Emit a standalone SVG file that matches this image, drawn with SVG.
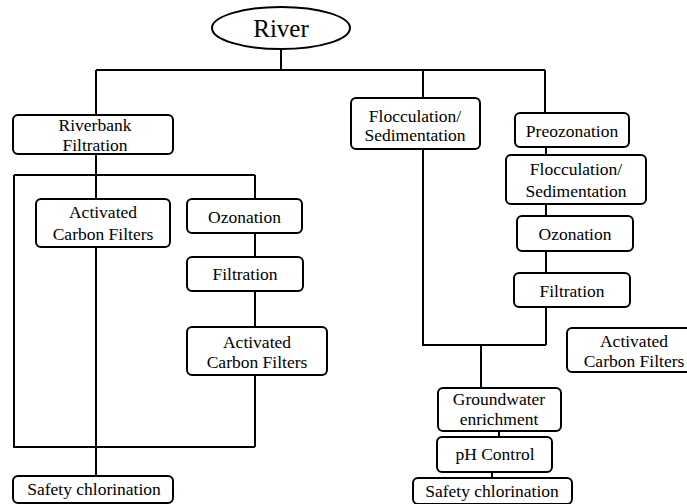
<svg xmlns="http://www.w3.org/2000/svg" width="687" height="504" viewBox="0 0 687 504">
<style>
.b{fill:#fff;stroke:#000;stroke-width:2}
.t{font-family:'Liberation Serif',serif;font-size:17.5px;fill:#000;text-anchor:middle}
.c{fill:none;stroke:#000;stroke-width:2}
</style>
<rect width="687" height="504" fill="#fff"/>
<g id="connectors" class="c">
<path d="M281,50V70M96,70H545M96,70V115M423,70V98M545,70V113"/>
<path d="M96,154V199M14,175H255M14,175V447H255M255,175V199M255,233V257M255,291V327M255,375V447M96,247V476"/>
<path d="M423,149V345H546M546,147V155M546,204V216M546,251V273M546,307V345M481,345V388M499,431V437M492,472V478"/>
</g>
<g font-family="Liberation Serif, serif">
<g id="river"><ellipse cx="281" cy="28" rx="69" ry="21" class="b"/><text x="281" y="37" class="t" font-size="25" style="font-size:25px">River</text></g>
<g id="riverbank"><rect x="13" y="115" width="160" height="39" rx="5" class="b"/><text x="95" y="131" class="t">Riverbank</text><text x="95" y="151" class="t">Filtration</text></g>
<g id="acf1"><rect x="36" y="199" width="134" height="48" rx="5" class="b"/><text x="103" y="218" class="t">Activated</text><text x="103" y="240" class="t">Carbon Filters</text></g>
<g id="ozon1"><rect x="187" y="199" width="115" height="34" rx="5" class="b"/><text x="244.5" y="223" class="t">Ozonation</text></g>
<g id="filt1"><rect x="187" y="257" width="116" height="34" rx="5" class="b"/><text x="245" y="280" class="t">Filtration</text></g>
<g id="acf2"><rect x="187" y="327" width="140" height="48" rx="5" class="b"/><text x="257" y="348" class="t">Activated</text><text x="257" y="368" class="t">Carbon Filters</text></g>
<g id="safety1"><rect x="13" y="476" width="160" height="27" rx="5" class="b"/><text x="94" y="495" class="t">Safety chlorination</text></g>
<g id="floc1"><rect x="351" y="98" width="129" height="51" rx="5" class="b"/><text x="415" y="122" class="t">Flocculation/</text><text x="415" y="141" class="t">Sedimentation</text></g>
<g id="preoz"><rect x="515" y="113" width="114" height="34" rx="5" class="b"/><text x="572" y="137" class="t">Preozonation</text></g>
<g id="floc2"><rect x="506" y="155" width="140" height="49" rx="5" class="b"/><text x="576" y="175" class="t">Flocculation/</text><text x="576" y="197" class="t">Sedimentation</text></g>
<g id="ozon2"><rect x="517" y="216" width="116" height="35" rx="5" class="b"/><text x="575" y="240" class="t">Ozonation</text></g>
<g id="filt2"><rect x="514" y="273" width="116" height="34" rx="5" class="b"/><text x="572" y="297" class="t">Filtration</text></g>
<g id="acf3"><rect x="567" y="328" width="130" height="44" rx="5" class="b"/><text x="634" y="347" class="t">Activated</text><text x="634" y="367" class="t">Carbon Filters</text></g>
<g id="ground"><rect x="438" y="388" width="123" height="43" rx="5" class="b"/><text x="499" y="405" class="t">Groundwater</text><text x="499" y="425" class="t">enrichment</text></g>
<g id="ph"><rect x="437" y="437" width="115" height="35" rx="5" class="b"/><text x="495" y="460" class="t">pH Control</text></g>
<g id="safety2"><rect x="413" y="478" width="159" height="26" rx="5" class="b"/><text x="492" y="497" class="t">Safety chlorination</text></g>
</g>
</svg>
